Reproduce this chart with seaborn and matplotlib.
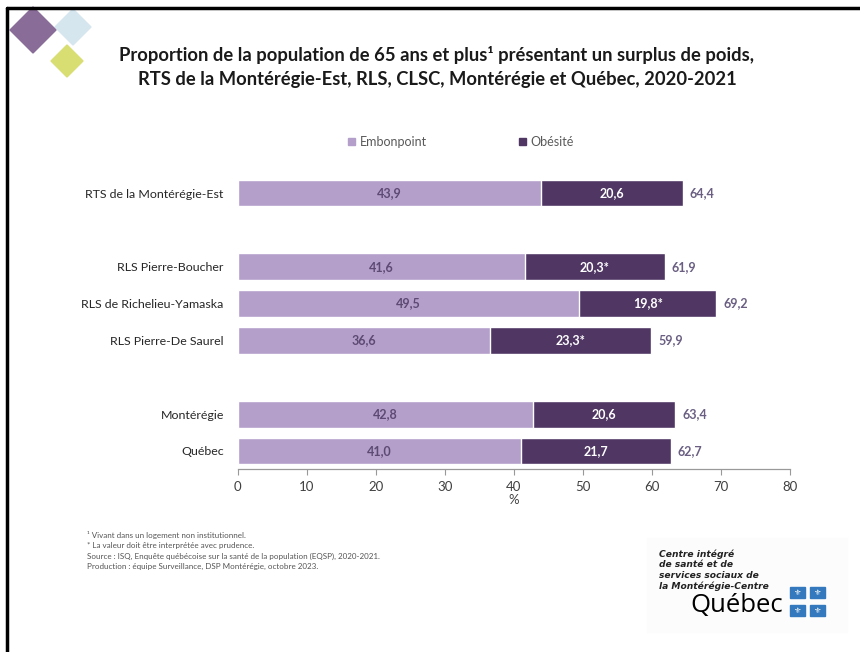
import numpy as np
import pandas as pd
import seaborn as sns
import matplotlib.pyplot as plt
from matplotlib.patches import Polygon, Rectangle, Patch
from matplotlib.lines import Line2D

categories = ["RTS de la Montérégie-Est", "RLS Pierre-Boucher", "RLS de Richelieu-Yamaska",
              "RLS Pierre-De Saurel", "Montérégie", "Québec"]
embonpoint = [43.9, 41.6, 49.5, 36.6, 42.8, 41.0]
obesite = [20.6, 20.3, 19.8, 23.3, 20.6, 21.7]
total = [64.4, 61.9, 69.2, 59.9, 63.4, 62.7]
prudence = ["", "*", "*", "*", "", ""]

# blank slots give the gaps between groups
order = [categories[0], " ", categories[1], categories[2], categories[3], "  ",
         categories[4], categories[5]]

light = "#b49fcb"
dark = "#4f3663"

sns.set_theme(style="white")
plt.rcParams['font.family'] = ['Lato', 'DejaVu Sans']

df = pd.DataFrame({"cat": categories, "emb": embonpoint, "obe": obesite})
df["stack"] = df["emb"] + df["obe"]

fig = plt.figure(figsize=(8.6, 6.52), dpi=100)
ax = fig.add_axes([237.7 / 860, 1 - 469.4 / 652, 552.3 / 860, (469.4 - 174.6) / 652])

sns.barplot(data=df, y="cat", x="stack", order=order, color=dark, width=0.73,
            orient="h", saturation=1, ax=ax)
sns.barplot(data=df, y="cat", x="emb", order=order, color=light, width=0.73,
            orient="h", saturation=1, ax=ax)

for i, cat in enumerate(categories):
    pos = order.index(cat)
    e, o = embonpoint[i], obesite[i]
    ax.text(e / 2, pos, f"{e:.1f}".replace(".", ","), ha="center", va="center",
            fontsize=9, color="#5d4a73", fontweight="bold")
    ax.text(e + o / 2, pos, f"{o:.1f}".replace(".", ",") + prudence[i], ha="center",
            va="center", fontsize=9, color="white", fontweight="bold")
    ax.text(e + o + 1.0, pos, f"{total[i]:.1f}".replace(".", ","), ha="left",
            va="center", fontsize=9, color="#6a5f82", fontweight="bold")

ax.set_xlim(0, 80)
ax.set_xticks(range(0, 81, 10))
ax.set_xlabel("%", fontsize=9.5, color="#404040", labelpad=1)
ax.set_ylabel("")
ax.tick_params(axis="x", labelsize=9.5, colors="#404040", length=4, width=0.8,
               direction="out", bottom=True, color="#999999", pad=4)
ax.tick_params(axis="y", labelsize=8.9, colors="#262626", length=0, pad=10)
for s in ["top", "right", "left"]:
    ax.spines[s].set_visible(False)
ax.spines["bottom"].set_color("#999999")
ax.spines["bottom"].set_linewidth(0.9)

handles = [Patch(color=light), Patch(color=dark)]
fig.legend(handles, ["Embonpoint", "Obésité"], loc="center",
           bbox_to_anchor=(461 / 860, 1 - 142 / 652), ncol=2, frameon=False,
           fontsize=9, labelcolor="#595959", handlelength=0.55, handleheight=0.55,
           handletextpad=0.35, columnspacing=7.4)

fig.text(437 / 860, 1 - 55 / 652,
         "Proportion de la population de 65 ans et plus¹ présentant un surplus de poids,",
         ha="center", va="center", fontsize=13.2, fontweight="bold", color="#1a1a1a")
fig.text(437 / 860, 1 - 80 / 652,
         "RTS de la Montérégie-Est, RLS, CLSC, Montérégie et Québec, 2020-2021",
         ha="center", va="center", fontsize=13.2, fontweight="bold", color="#1a1a1a")

notes = ["¹ Vivant dans un logement non institutionnel.",
         "* La valeur doit être interprétée avec prudence.",
         "Source : ISQ, Enquête québécoise sur la santé de la population (EQSP), 2020-2021.",
         "Production : équipe Surveillance, DSP Montérégie, octobre 2023."]
for k, n in enumerate(notes):
    fig.text(87 / 860, 1 - (535 + 10.5 * k) / 652, n, ha="left", va="center",
             fontsize=5.8, color="#555555")

# decorative diamonds
def diamond(cx, cy, r, c):
    pts = [(cx, cy - r), (cx + r, cy), (cx, cy + r), (cx - r, cy)]
    pts = [(x / 860, 1 - y / 652) for x, y in pts]
    fig.patches.append(Polygon(pts, closed=True, color=c, transform=fig.transFigure,
                               zorder=0))

diamond(73, 27, 18, "#d6e6ee")
diamond(33, 30, 23, "#8a6c98")
diamond(67, 61, 16, "#d9de72")

# frame lines
fig.lines.append(Line2D([7 / 860, 7 / 860], [0, 1 - 8 / 652], color="black", lw=2.5,
                        transform=fig.transFigure))
fig.lines.append(Line2D([7 / 860, 1], [1 - 8 / 652, 1 - 8 / 652], color="black", lw=2.5,
                        transform=fig.transFigure))

# logo
fig.patches.append(Rectangle((647 / 860, 1 - 632 / 652), 200 / 860, 94 / 652,
                             color="#fcfcfc", transform=fig.transFigure, zorder=0))
logo = ["Centre intégré", "de santé et de", "services sociaux de", "la Montérégie-Centre"]
for k, t in enumerate(logo):
    fig.text(659 / 860, 1 - (554 + 10.7 * k) / 652, t, ha="left", va="center",
             fontsize=6.6, fontweight="bold", fontstyle="italic", color="#222222",
             family=["DejaVu Sans"])
fig.text(690 / 860, 1 - 606 / 652, "Québec", ha="left", va="center", fontsize=18.5,
         color="#000000", family=["Open Sans", "DejaVu Sans"])
for bx, by in [(790, 587), (810, 587), (790, 605), (810, 605)]:
    fig.patches.append(Rectangle((bx / 860, 1 - (by + 11) / 652), 15 / 860, 11 / 652,
                                 color="#3479bd", transform=fig.transFigure))
    fig.text((bx + 7.5) / 860, 1 - (by + 5.5) / 652, "⚜", ha="center", va="center",
             fontsize=6, color="white", family=["DejaVu Sans"])

fig.savefig("out.png", dpi=100)
